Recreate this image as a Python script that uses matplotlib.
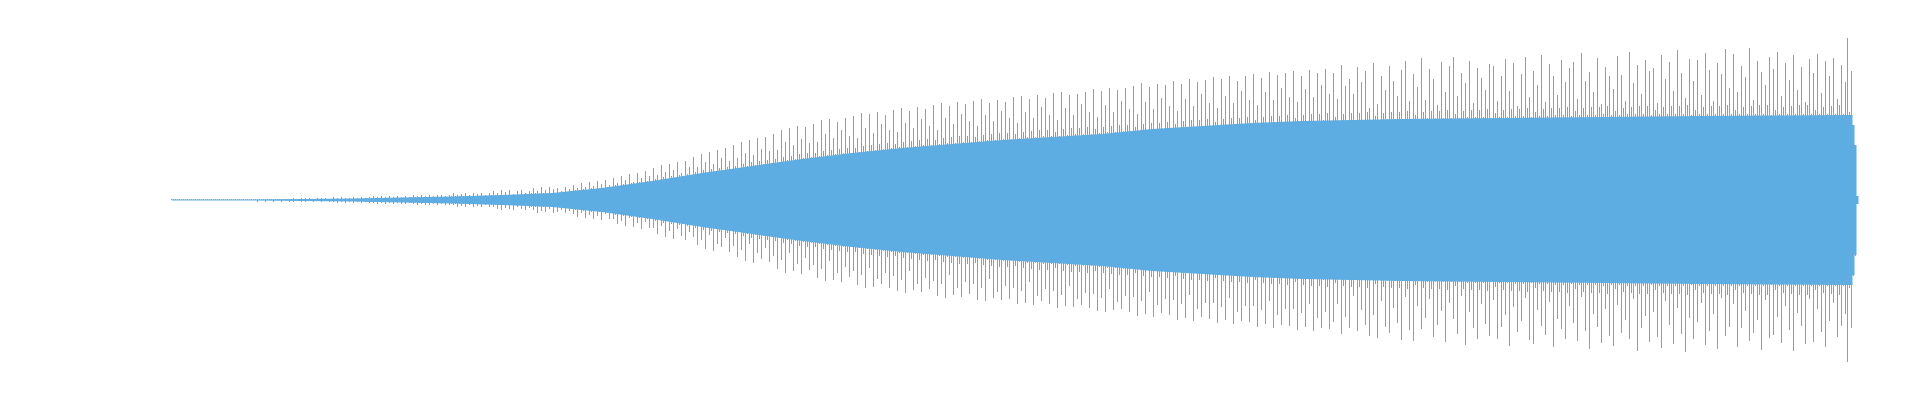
import numpy as np
import matplotlib.pyplot as plt

# waveform peaks, one value per bar (pixels above / below the centre line)
TOP = [
    .5, .5, .5, .5, .5, .5, .5, .5, .5, .5, .5, .5, .5, .5, .5, .5, .5, .5, .5, .5,
    .5, .5, .5, .5, .5, .5, .5, .5, .5, .5, .5, .5, .5, .5, .5, .5, .5, .5, .5, .5,
    .5, 1, .5, .5, .5, 1, .5, .5, .5, 1, .5, .5, .5, 1, .5, .5, .5, 1, .5, .5,
    1, 2, 1, 1, 1, 2, 1, 1.5, 1, 2, 1, 1, 1, 2, 1, 1.5, 1, 2, 1, 1,
    1, 3, 1, 2, 1, 3, 1, 2, 1, 2, 1, 3, 1, 2, 1, 3, 1, 2, 1, 3,
    2, 4, 2, 3, 2, 4, 2, 3, 2, 4, 2, 3, 2, 4, 2, 3, 2, 4, 2, 3,
    3, 5, 3, 4, 3, 5, 3, 4, 3, 5, 3, 4, 3, 5, 3, 5, 3, 4, 3, 5,
    4, 7, 4, 5, 4, 6, 4, 7, 4, 5, 4, 7, 4, 6, 4, 7, 4, 5, 4, 7,
    5, 9, 5, 7, 5, 10, 5, 8, 5, 10, 5, 6, 5, 9, 5, 10, 5, 7, 5, 9,
    7, 12, 7, 9, 7, 13, 7, 10, 7, 13, 7, 11, 7, 12, 7, 9, 7, 13, 7, 11,
    9, 15, 10, 12, 10, 17, 11, 13, 10, 18, 12, 14, 11, 19, 12, 16, 12, 20, 13, 15,
    13, 22, 15, 17, 14, 24, 16, 20, 15, 26, 17, 18, 16, 27, 18, 22, 17, 29, 19, 24,
    19, 32, 21, 25, 20, 35, 23, 28, 21, 36, 24, 30, 22, 38, 25, 27, 23, 39, 26, 33,
    25, 43, 28, 33, 26, 46, 30, 38, 27, 48, 31, 36, 28, 50, 32, 42, 29, 52, 33, 39,
    31, 55, 34, 42, 32, 58, 36, 47, 34, 60, 38, 45, 35, 62, 39, 51, 36, 63, 40, 49,
    37, 66, 41, 50, 38, 70, 43, 58, 40, 72, 44, 55, 41, 74, 46, 61, 42, 73, 47, 57,
    43, 76, 47, 58, 44, 80, 49, 66, 45, 81, 50, 62, 46, 78, 51, 70, 47, 82, 52, 64,
    47, 84, 52, 62, 48, 87, 54, 72, 49, 86, 55, 67, 50, 88, 56, 76, 51, 85, 57, 70,
    52, 90, 56, 68, 53, 92, 58, 77, 53, 89, 59, 72, 54, 93, 60, 81, 55, 91, 61, 74,
    55, 95, 60, 70, 56, 97, 62, 82, 57, 94, 63, 76, 57, 98, 64, 86, 58, 96, 64, 79,
    58, 99, 63, 74, 59, 101, 65, 85, 60, 97, 66, 79, 60, 100, 67, 89, 61, 98, 67, 82,
    61, 103, 66, 77, 62, 104, 68, 88, 63, 101, 69, 82, 63, 105, 70, 93, 64, 102, 70, 85,
    64, 107, 68, 80, 64, 108, 71, 92, 65, 105, 72, 85, 66, 106, 72, 96, 66, 108, 73, 88,
    66, 111, 71, 83, 67, 109, 73, 95, 68, 112, 74, 88, 68, 110, 75, 99, 69, 112, 75, 91,
    69, 114, 73, 86, 69, 117, 76, 98, 70, 113, 77, 91, 71, 116, 77, 102, 71, 115, 78, 94,
    72, 119, 76, 89, 72, 116, 79, 101, 73, 121, 80, 94, 73, 118, 80, 106, 74, 120, 81, 97,
    74, 123, 78, 92, 74, 121, 81, 104, 75, 124, 82, 97, 75, 119, 82, 109, 76, 124, 83, 100,
    76, 126, 80, 95, 76, 122, 83, 108, 77, 128, 84, 100, 77, 125, 84, 112, 78, 127, 85, 103,
    78, 129, 82, 98, 78, 124, 85, 111, 79, 130, 86, 103, 79, 127, 86, 115, 80, 131, 87, 106,
    79, 127, 83, 101, 79, 135, 86, 114, 80, 121, 87, 106, 80, 133, 87, 118, 80, 129, 88, 92,
    80, 137, 84, 96, 80, 124, 87, 110, 81, 134, 88, 119, 81, 104, 88, 130, 81, 139, 89, 99,
    81, 126, 85, 113, 81, 142, 88, 100, 82, 131, 89, 121, 82, 95, 89, 138, 82, 108, 90, 134,
    82, 143, 86, 104, 82, 127, 89, 117, 83, 139, 90, 97, 83, 132, 90, 122, 83, 110, 91, 136,
    82, 134, 87, 99, 83, 124, 90, 141, 83, 109, 91, 137, 84, 94, 91, 126, 84, 143, 92, 103,
    83, 129, 88, 115, 84, 145, 91, 98, 84, 136, 92, 124, 85, 105, 92, 140, 85, 118, 93, 132,
    84, 138, 89, 101, 85, 147, 92, 119, 85, 128, 93, 108, 85, 142, 93, 96, 86, 133, 94, 124,
    85, 111, 89, 144, 85, 125, 92, 99, 86, 148, 93, 117, 86, 135, 94, 106, 86, 140, 94, 129,
    85, 132, 90, 97, 86, 145, 93, 121, 86, 138, 94, 109, 86, 150, 94, 127, 86, 102, 95, 141,
    85, 119, 90, 140, 86, 105, 93, 147, 86, 130, 94, 99, 86, 137, 94, 126, 86, 151, 95, 112,
    86, 146, 90, 108, 86, 134, 93, 123, 86, 152, 94, 100, 86, 139, 95, 128, 86, 115, 95, 143,
    85, 131, 90, 148, 86, 104, 93, 137, 86, 120, 94, 145, 86, 110, 95, 133, 86, 98, 95, 141,
    86, 127, 90, 146, 86, 107, 93, 139, 86, 124, 94, 142, 86, 101, 95, 135, 86, 118, 162, 88,
    129, 75, 55, 4,
]

BOTTOM = [
    .5, .5, .5, .5, .5, .5, .5, .5, .5, .5, .5, .5, .5, .5, .5, .5, .5, .5, .5, .5,
    .5, .5, .5, .5, .5, .5, .5, .5, .5, .5, .5, .5, .5, .5, .5, .5, .5, .5, .5, .5,
    .5, .5, .5, 2, .5, .5, .5, 2, .5, .5, .5, 2, .5, .5, .5, 2, .5, .5, .5, 2,
    1, 2, 1, 1, 1, 2, 1, 2, 1, 1, 1, 2, 1, 1.5, 1, 2, 1, 1, 1, 2,
    1, 2, 1, 3, 1, 2, 1, 3, 1, 2, 1, 3, 1, 2, 1, 3, 1, 2, 1, 3,
    2, 3, 2, 4, 2, 3, 2, 4, 2, 3, 2, 4, 2, 3, 2, 4, 2, 4, 2, 3,
    3, 4, 3, 5, 3, 4, 3, 5, 3, 5, 3, 4, 3, 5, 3, 4, 3, 5, 3, 5,
    4, 5, 4, 7, 4, 6, 4, 7, 4, 5, 4, 7, 4, 6, 4, 7, 4, 5, 4, 7,
    5, 7, 5, 9, 5, 10, 5, 8, 5, 9, 5, 10, 5, 7, 5, 9, 5, 10, 5, 8,
    7, 10, 7, 13, 7, 11, 7, 12, 7, 9, 7, 13, 7, 12, 7, 10, 7, 13, 7, 11,
    9, 14, 10, 17, 10, 13, 11, 18, 10, 15, 12, 19, 11, 16, 12, 20, 12, 14, 13, 19,
    13, 19, 15, 24, 14, 21, 16, 26, 15, 18, 17, 27, 16, 23, 18, 29, 17, 22, 19, 28,
    19, 28, 21, 34, 20, 26, 23, 37, 21, 31, 24, 39, 22, 29, 25, 36, 23, 40, 26, 32,
    25, 37, 28, 45, 26, 40, 30, 49, 27, 35, 31, 51, 28, 44, 32, 47, 29, 38, 33, 52,
    31, 46, 34, 57, 32, 50, 36, 61, 34, 44, 38, 63, 35, 53, 39, 59, 36, 48, 40, 62,
    37, 56, 41, 69, 38, 60, 43, 73, 40, 53, 44, 71, 41, 64, 46, 74, 42, 58, 47, 70,
    43, 65, 47, 78, 44, 69, 49, 81, 45, 61, 50, 80, 46, 73, 51, 82, 47, 67, 52, 77,
    47, 71, 52, 85, 48, 75, 54, 88, 49, 68, 55, 87, 50, 79, 56, 84, 51, 73, 57, 88,
    52, 76, 56, 91, 53, 80, 58, 93, 53, 71, 59, 90, 54, 84, 60, 92, 55, 78, 61, 89,
    55, 81, 60, 96, 56, 84, 62, 98, 57, 75, 63, 95, 57, 88, 64, 97, 58, 82, 64, 94,
    58, 84, 63, 100, 59, 88, 65, 101, 60, 79, 66, 98, 60, 92, 67, 100, 61, 86, 67, 99,
    61, 88, 66, 104, 62, 91, 68, 103, 63, 82, 69, 105, 63, 96, 70, 101, 64, 89, 70, 104,
    64, 91, 68, 108, 64, 95, 71, 106, 65, 86, 72, 107, 66, 99, 72, 105, 66, 93, 73, 108,
    66, 94, 71, 111, 67, 98, 73, 112, 68, 89, 74, 110, 68, 102, 75, 109, 69, 96, 75, 112,
    69, 97, 73, 116, 69, 101, 76, 114, 70, 92, 77, 117, 71, 105, 77, 113, 71, 99, 78, 115,
    72, 100, 76, 120, 72, 104, 79, 118, 73, 95, 80, 121, 73, 109, 80, 117, 74, 103, 81, 119,
    74, 103, 78, 123, 74, 107, 81, 120, 75, 98, 82, 124, 75, 112, 82, 121, 76, 106, 83, 122,
    76, 106, 80, 127, 76, 110, 83, 124, 77, 101, 84, 128, 77, 115, 84, 125, 78, 109, 85, 126,
    78, 109, 82, 130, 78, 113, 85, 127, 79, 104, 86, 131, 79, 118, 86, 128, 80, 112, 87, 129,
    79, 122, 83, 104, 79, 134, 86, 117, 80, 128, 87, 96, 80, 131, 87, 110, 80, 125, 88, 136,
    80, 115, 84, 138, 80, 101, 87, 127, 81, 133, 88, 108, 81, 123, 88, 140, 81, 97, 89, 130,
    81, 141, 85, 106, 81, 129, 88, 118, 82, 99, 89, 137, 82, 125, 89, 111, 82, 142, 90, 103,
    82, 119, 86, 134, 82, 96, 89, 145, 83, 112, 90, 128, 83, 139, 90, 104, 83, 124, 91, 136,
    82, 100, 87, 139, 83, 127, 90, 115, 83, 146, 91, 107, 84, 132, 91, 121, 84, 98, 92, 140,
    83, 144, 88, 110, 84, 126, 91, 135, 84, 102, 92, 147, 85, 119, 92, 129, 85, 139, 93, 106,
    84, 123, 89, 141, 85, 97, 92, 131, 85, 149, 93, 114, 85, 127, 93, 143, 86, 109, 94, 136,
    85, 146, 89, 105, 85, 133, 92, 120, 86, 139, 93, 99, 86, 151, 94, 128, 86, 116, 94, 142,
    85, 112, 90, 137, 86, 148, 93, 101, 86, 125, 94, 144, 86, 108, 94, 134, 86, 152, 95, 118,
    85, 139, 90, 122, 86, 103, 93, 145, 86, 131, 94, 114, 86, 149, 94, 98, 86, 136, 95, 127,
    86, 104, 90, 147, 86, 128, 93, 111, 86, 141, 94, 133, 86, 120, 95, 150, 86, 100, 95, 138,
    85, 135, 90, 117, 86, 143, 93, 106, 86, 130, 94, 151, 86, 113, 95, 126, 86, 144, 95, 99,
    86, 142, 90, 109, 86, 132, 93, 147, 86, 121, 94, 103, 86, 137, 95, 126, 86, 114, 162, 88,
    128, 76, 56, 4,
]

# dense core of the waveform (bar index, half height); last bars step down
BODY_IDX = [0, 40, 65, 90, 115, 140, 165, 190, 215, 240, 265, 290, 315, 340, 365, 390,
            415, 440, 465, 490, 515, 540, 565, 615, 665, 715, 765, 839, 840.25,
            840.25, 841.25, 841.25, 842.25, 842.25, 843.25]
BODY_AMP = [0.5, 0.5, 1, 1.5, 2.5, 3.5, 5, 7, 12, 19, 27, 34, 41, 47, 52, 56,
            60, 63, 66, 71, 74, 77, 79, 81, 82, 83, 84, 85, 85,
            75, 75, 55, 55, 4, 4]

color = "#5dade2"

top = np.array(TOP, dtype=float)
bottom = np.array(BOTTOM, dtype=float)
assert len(top) == len(bottom) == 844, (len(top), len(bottom))
idx = np.arange(len(top))

fig = plt.figure(figsize=(19.2, 4), dpi=100)
ax = fig.add_axes([0, 0, 1, 1])

body = np.array(BODY_AMP, dtype=float)
ax.fill_between(BODY_IDX, -body, body, color=color, linewidth=0)
ax.bar(idx, top, width=0.5, color=color, linewidth=0)
ax.bar(idx, -bottom, width=0.5, color=color, linewidth=0)

# 2 px per bar, centre line at pixel row ~200
ax.set_xlim(-85.75, 874.25)
ax.set_ylim(-200.5, 199.5)
ax.axis("off")

fig.savefig("out.png", dpi=100, facecolor="white")
